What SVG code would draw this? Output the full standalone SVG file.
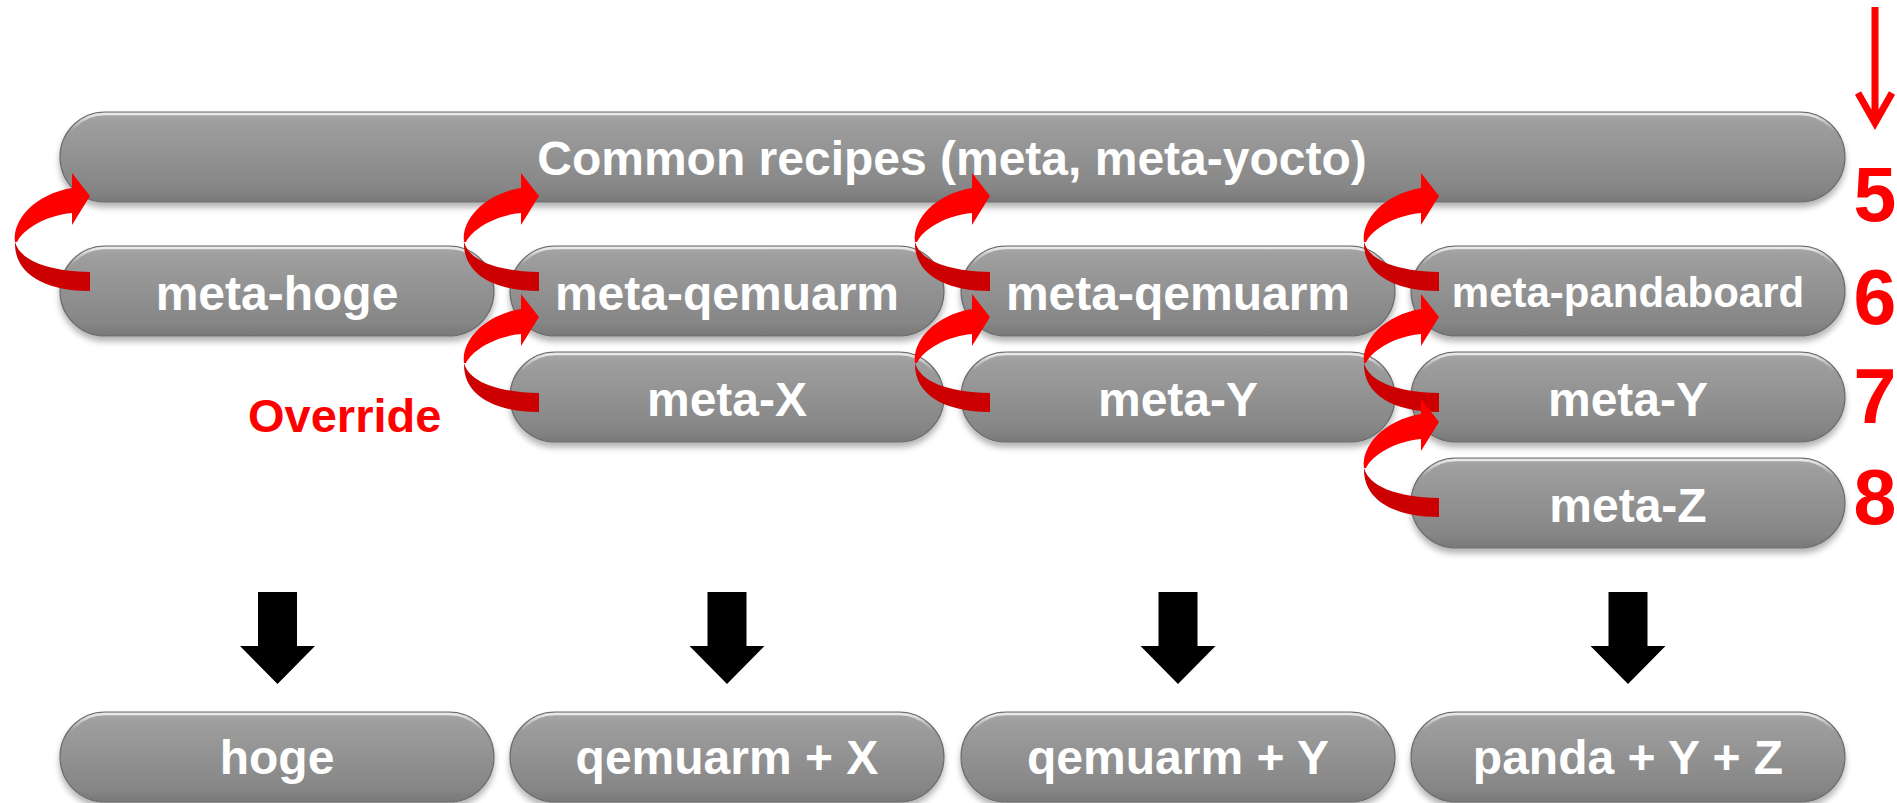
<svg xmlns="http://www.w3.org/2000/svg" xmlns:xlink="http://www.w3.org/1999/xlink" width="1897" height="803" viewBox="0 0 1897 803">
  <style>
    .pill { fill: url(#pillFill); stroke: #6c6c6c; stroke-width: 1.2; filter: url(#pillShadow); }
    .gloss { fill: none; stroke: url(#glossStroke); stroke-width: 2.5; }
    .lbl { font-family: "Liberation Sans", Arial, sans-serif; font-weight: bold; font-size: 48px; fill: #ffffff; text-anchor: middle; }
    .small { font-size: 42px; }
    .red { font-family: "Liberation Sans", Arial, sans-serif; font-weight: bold; fill: #ff0000; }
    .num { font-size: 77px; text-anchor: middle; }
    .dk { fill: #cc0000; }
    .br { fill: #ff0000; }
    .blk { fill: #000000; }
  </style>
  <defs>
    <linearGradient id="pillFill" x1="0" y1="0" x2="0" y2="1">
      <stop offset="0" stop-color="#a8a8a8"/>
      <stop offset="0.12" stop-color="#9e9e9e"/>
      <stop offset="0.85" stop-color="#868686"/>
      <stop offset="1" stop-color="#787878"/>
    </linearGradient>
    <linearGradient id="glossStroke" x1="0" y1="0" x2="0" y2="1">
      <stop offset="0" stop-color="#ffffff" stop-opacity="0.75"/>
      <stop offset="0.2" stop-color="#ffffff" stop-opacity="0"/>
      <stop offset="1" stop-color="#ffffff" stop-opacity="0"/>
    </linearGradient>
    <filter id="pillShadow" x="-5%" y="-20%" width="110%" height="150%">
      <feGaussianBlur in="SourceAlpha" stdDeviation="3"/>
      <feOffset dy="5" result="b"/>
      <feComponentTransfer><feFuncA type="linear" slope="0.3"/></feComponentTransfer>
      <feMerge><feMergeNode/><feMergeNode in="SourceGraphic"/></feMerge>
    </filter>
    <!-- twisted red override arrow, origin at the arrow tip -->
    <g id="curl">
      <path class="dk" d="M0,76 L0,95 C-45,95 -76,78 -75,46 C-70,64 -44,75 0,76 Z"/>
      <path class="br" d="M-75,46 C-78,24 -55,-2 -18,-8 L-18,-23 L0,0 L-18,29 L-18,17 C-42,19 -66,32 -73,46 Z"/>
    </g>
    <!-- thick black down arrow, origin at top centre of the shaft -->
    <path id="down" class="blk" d="M-19.5,0 H19.5 V54 H37.5 L0,92 L-37.5,54 H-19.5 Z"/>
  </defs>

  <rect width="1897" height="803" fill="#ffffff"/>

  <!-- layer stack -->
  <g id="common">
    <rect class="pill" x="60" y="112" width="1785" height="90" rx="45"/>
    <rect class="gloss" x="62" y="114" width="1781" height="86" rx="43"/>
    <text class="lbl" x="952" y="175">Common recipes (meta, meta-yocto)</text>
  </g>

  <g id="meta-hoge">
    <rect class="pill" x="60" y="246" width="434" height="90" rx="45"/>
    <rect class="gloss" x="62" y="248" width="430" height="86" rx="43"/>
    <text class="lbl" x="277" y="310">meta-hoge</text>
  </g>
  <g id="meta-qemuarm-1">
    <rect class="pill" x="510" y="246" width="434" height="90" rx="45"/>
    <rect class="gloss" x="512" y="248" width="430" height="86" rx="43"/>
    <text class="lbl" x="727" y="310">meta-qemuarm</text>
  </g>
  <g id="meta-qemuarm-2">
    <rect class="pill" x="961" y="246" width="434" height="90" rx="45"/>
    <rect class="gloss" x="963" y="248" width="430" height="86" rx="43"/>
    <text class="lbl" x="1178" y="310">meta-qemuarm</text>
  </g>
  <g id="meta-pandaboard">
    <rect class="pill" x="1411" y="246" width="434" height="90" rx="45"/>
    <rect class="gloss" x="1413" y="248" width="430" height="86" rx="43"/>
    <text class="lbl small" x="1628" y="307">meta-pandaboard</text>
  </g>

  <g id="meta-X">
    <rect class="pill" x="510" y="352" width="434" height="90" rx="45"/>
    <rect class="gloss" x="512" y="354" width="430" height="86" rx="43"/>
    <text class="lbl" x="727" y="416">meta-X</text>
  </g>
  <g id="meta-Y-1">
    <rect class="pill" x="961" y="352" width="434" height="90" rx="45"/>
    <rect class="gloss" x="963" y="354" width="430" height="86" rx="43"/>
    <text class="lbl" x="1178" y="416">meta-Y</text>
  </g>
  <g id="meta-Y-2">
    <rect class="pill" x="1411" y="352" width="434" height="90" rx="45"/>
    <rect class="gloss" x="1413" y="354" width="430" height="86" rx="43"/>
    <text class="lbl" x="1628" y="416">meta-Y</text>
  </g>
  <g id="meta-Z">
    <rect class="pill" x="1411" y="458" width="434" height="90" rx="45"/>
    <rect class="gloss" x="1413" y="460" width="430" height="86" rx="43"/>
    <text class="lbl" x="1628" y="522">meta-Z</text>
  </g>

  <!-- resulting builds -->
  <g id="hoge">
    <rect class="pill" x="60" y="712" width="434" height="90" rx="45"/>
    <rect class="gloss" x="62" y="714" width="430" height="86" rx="43"/>
    <text class="lbl" x="277" y="774">hoge</text>
  </g>
  <g id="qemuarm-x">
    <rect class="pill" x="510" y="712" width="434" height="90" rx="45"/>
    <rect class="gloss" x="512" y="714" width="430" height="86" rx="43"/>
    <text class="lbl" x="727" y="774">qemuarm + X</text>
  </g>
  <g id="qemuarm-y">
    <rect class="pill" x="961" y="712" width="434" height="90" rx="45"/>
    <rect class="gloss" x="963" y="714" width="430" height="86" rx="43"/>
    <text class="lbl" x="1178" y="774">qemuarm + Y</text>
  </g>
  <g id="panda-y-z">
    <rect class="pill" x="1411" y="712" width="434" height="90" rx="45"/>
    <rect class="gloss" x="1413" y="714" width="430" height="86" rx="43"/>
    <text class="lbl" x="1628" y="774">panda + Y + Z</text>
  </g>

  <!-- priority labels -->
  <g id="priority">
    <path d="M1875,7 V122 M1858,93 L1875,123 L1892,93" fill="none" stroke="#ff0000" stroke-width="7" stroke-miterlimit="10"/>
    <text class="red num" x="1875" y="221">5</text>
    <text class="red num" x="1875" y="324">6</text>
    <text class="red num" x="1875" y="423">7</text>
    <text class="red num" x="1875" y="524">8</text>
  </g>

  <g id="override-label">
    <text class="red" x="248" y="432" font-size="47">Override</text>
  </g>

  <g id="connectors">
    <use xlink:href="#curl" x="90" y="196"/>
    <use xlink:href="#curl" x="539" y="196"/>
    <use xlink:href="#curl" x="539" y="317"/>
    <use xlink:href="#curl" x="990" y="196"/>
    <use xlink:href="#curl" x="990" y="317"/>
    <use xlink:href="#curl" x="1439" y="196"/>
    <use xlink:href="#curl" x="1439" y="317"/>
    <use xlink:href="#curl" x="1439" y="422"/>
    <use xlink:href="#down" x="277.5" y="592"/>
    <use xlink:href="#down" x="727" y="592"/>
    <use xlink:href="#down" x="1178" y="592"/>
    <use xlink:href="#down" x="1628" y="592"/>
  </g>
</svg>
